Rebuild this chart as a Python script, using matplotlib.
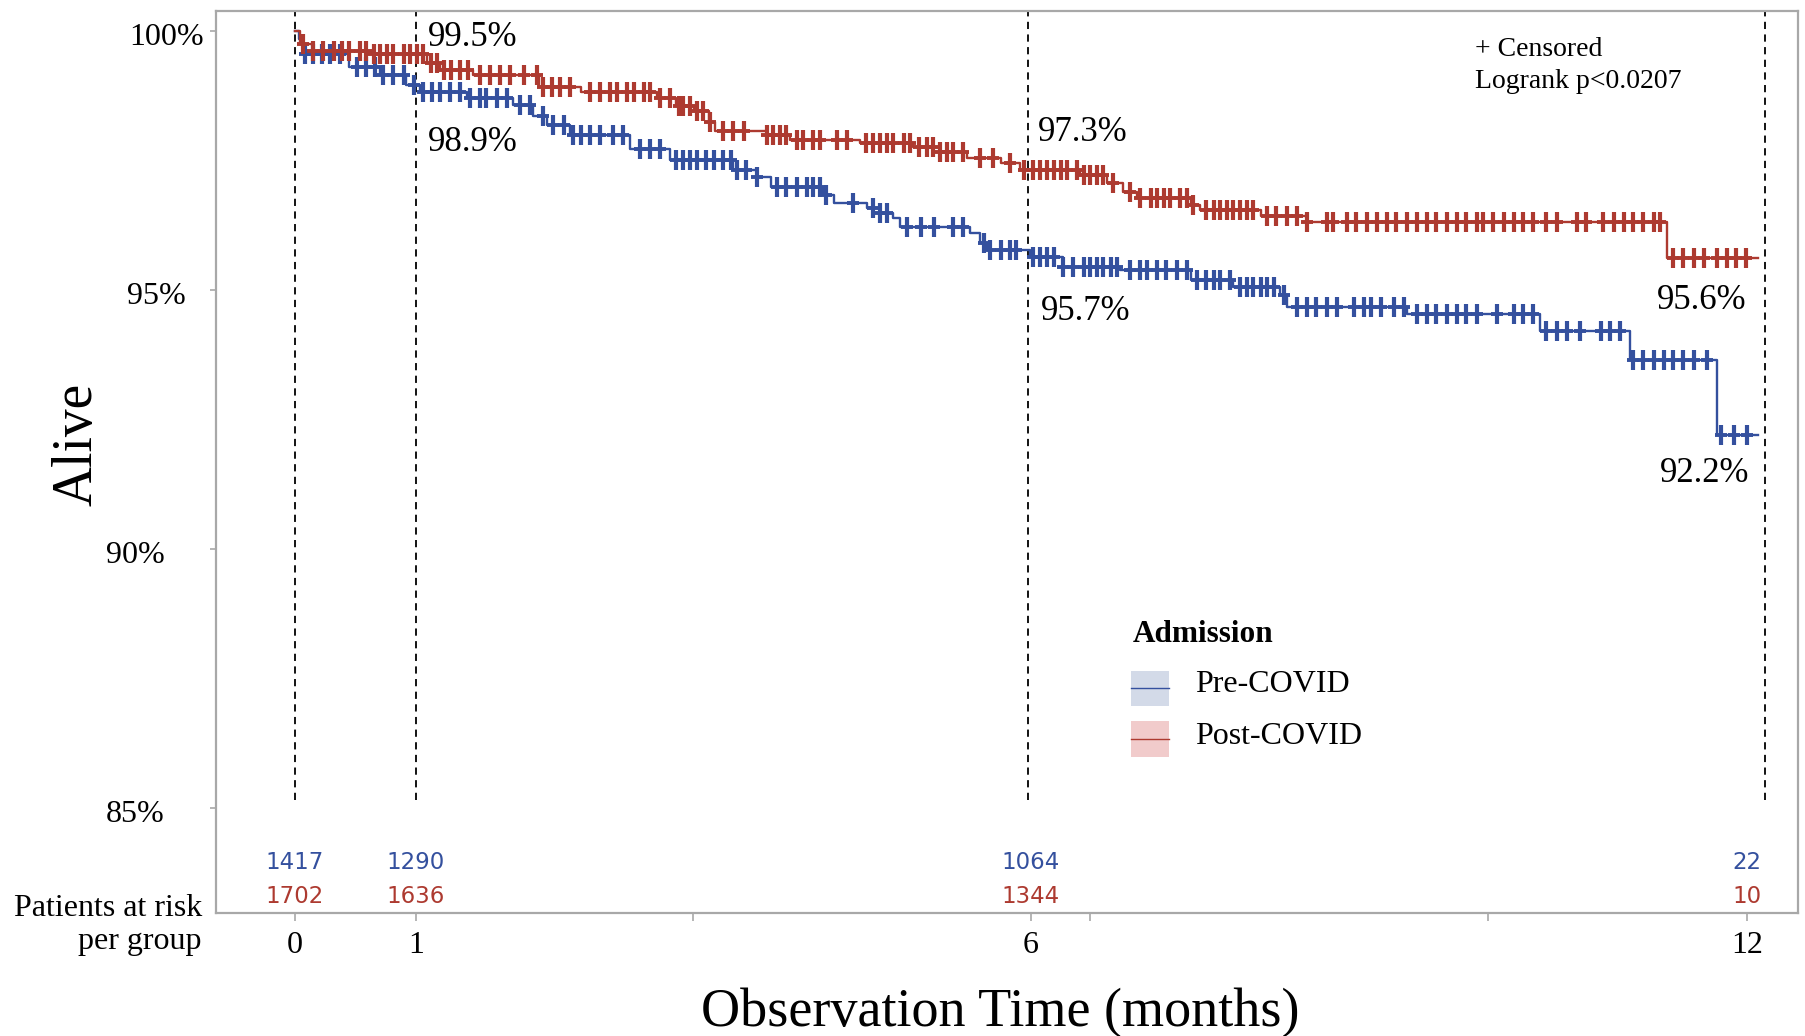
import numpy as np
import matplotlib
matplotlib.use("Agg")
import matplotlib.pyplot as plt
from matplotlib.patches import Rectangle
from matplotlib.lines import Line2D
import matplotlib.transforms as mtransforms

# ---------------- data ----------------
groups = ["Pre-COVID", "Post-COVID"]

pre_times = [0, 0.03, 0.07, 0.45, 0.70, 0.92, 1.03, 1.42, 1.80, 1.97,
             2.08, 2.27, 2.77, 3.10, 3.62, 3.82, 3.93, 4.36, 4.45, 4.73,
             4.83, 4.94, 5.00, 5.58, 5.66, 5.72, 6.07, 6.35, 6.82, 7.40,
             7.75, 8.14, 8.20, 9.19, 10.29, 11.03, 11.75, 12.09]
pre_surv = [100, 99.85, 99.55, 99.31, 99.15, 98.96, 98.83, 98.70, 98.57, 98.35,
            98.19, 97.99, 97.72, 97.50, 97.32, 97.19, 96.99, 96.83, 96.68, 96.58,
            96.49, 96.39, 96.22, 96.10, 95.91, 95.77, 95.64, 95.45, 95.39, 95.19,
            95.06, 94.90, 94.68, 94.53, 94.20, 93.65, 92.20, 92.20]
pre_censor = [0.08, 0.15, 0.22, 0.29, 0.37, 0.51, 0.59, 0.66, 0.73, 0.81, 0.90, 0.98,
              1.06, 1.13, 1.20, 1.28, 1.36, 1.45, 1.53, 1.58, 1.67, 1.75, 1.86, 1.94,
              2.05, 2.13, 2.22, 2.30, 2.36, 2.44, 2.52, 2.63, 2.71, 2.85, 2.93, 3.02,
              3.15, 3.21, 3.26, 3.32, 3.40, 3.46, 3.54, 3.60, 3.65, 3.73, 3.82, 3.98,
              4.06, 4.15, 4.23, 4.28, 4.34, 4.39, 4.61, 4.78, 4.83, 4.89, 5.06, 5.17,
              5.28, 5.44, 5.52, 5.69, 5.74, 5.83, 5.91, 5.96, 6.10, 6.16, 6.21, 6.27,
              6.35, 6.43, 6.52, 6.57, 6.63, 6.68, 6.74, 6.79, 6.90, 6.98, 7.04, 7.12,
              7.20, 7.29, 7.37, 7.45, 7.53, 7.59, 7.64, 7.73, 7.81, 7.87, 7.92, 7.98,
              8.03, 8.09, 8.17, 8.28, 8.36, 8.44, 8.53, 8.61, 8.75, 8.83, 8.89, 8.97,
              9.08, 9.16, 9.27, 9.35, 9.43, 9.52, 9.60, 9.68, 9.77, 9.93, 10.07, 10.15,
              10.23, 10.34, 10.43, 10.51, 10.62, 10.79, 10.87, 10.95, 11.06, 11.14,
              11.23, 11.31, 11.39, 11.47, 11.56, 11.67, 11.78, 11.89, 12.00]

post_times = [0, 0.04, 0.15, 0.60, 1.09, 1.20, 1.47, 2.02, 2.36, 2.99,
              3.15, 3.30, 3.42, 3.47, 3.90, 4.09, 4.67, 5.11, 5.33, 5.55,
              5.83, 5.99, 6.49, 6.71, 6.84, 6.96, 7.40, 7.48, 7.98, 8.36,
              11.34, 12.09]
post_surv = [100, 99.75, 99.62, 99.55, 99.38, 99.25, 99.15, 98.92, 98.83, 98.70,
             98.55, 98.45, 98.25, 98.07, 97.99, 97.90, 97.84, 97.77, 97.67, 97.55,
             97.45, 97.32, 97.22, 97.06, 96.90, 96.78, 96.64, 96.54, 96.42, 96.32,
             95.61, 95.61]
post_censor = [0.07, 0.15, 0.23, 0.32, 0.39, 0.45, 0.54, 0.59, 0.65, 0.70, 0.76, 0.81,
               0.90, 0.95, 1.01, 1.06, 1.12, 1.17, 1.23, 1.29, 1.36, 1.43, 1.53, 1.61,
               1.69, 1.78, 1.89, 2.00, 2.05, 2.12, 2.19, 2.27, 2.44, 2.52, 2.60, 2.66,
               2.74, 2.80, 2.88, 2.93, 3.02, 3.10, 3.17, 3.21, 3.26, 3.32, 3.37, 3.43,
               3.54, 3.62, 3.71, 3.90, 3.95, 4.01, 4.06, 4.15, 4.20, 4.28, 4.34, 4.48,
               4.56, 4.72, 4.78, 4.83, 4.89, 4.94, 5.03, 5.08, 5.16, 5.22, 5.27, 5.33,
               5.39, 5.44, 5.52, 5.66, 5.77, 5.91, 6.02, 6.10, 6.16, 6.21, 6.27, 6.33,
               6.38, 6.46, 6.52, 6.57, 6.63, 6.68, 6.76, 6.90, 6.98, 7.07, 7.12, 7.18,
               7.23, 7.31, 7.37, 7.42, 7.53, 7.59, 7.64, 7.70, 7.75, 7.81, 7.87, 7.92,
               8.03, 8.11, 8.20, 8.28, 8.36, 8.53, 8.58, 8.69, 8.77, 8.86, 8.94, 9.02,
               9.10, 9.19, 9.27, 9.35, 9.43, 9.52, 9.60, 9.68, 9.77, 9.82, 9.90, 9.99,
               10.07, 10.15, 10.23, 10.34, 10.43, 10.59, 10.67, 10.81, 10.90, 10.98,
               11.06, 11.14, 11.23, 11.28, 11.39, 11.47, 11.56, 11.64, 11.75, 11.83,
               11.91, 11.99]

landmark_labels = ["0", "1", "6", "12"]
landmark_pos = [0, 1, 6.08, 12]
ref_line_months = [0, 1, 6.06, 12.15]
sas_day_ticks = [100, 200, 300]
days_per_month = 30.4375

pre_at_risk = [1417, 1290, 1064, 22]
post_at_risk = [1702, 1636, 1344, 10]

yticks = [85, 90, 95, 100]
ytick_labels = ["85%", "90%", "95%", "100%"]

# landmark survival annotations: (text, x, y)
pre_notes = [("98.9%", 1.10, 97.84), ("95.7%", 6.16, 94.58), ("92.2%", 11.28, 91.46)]
post_notes = [("99.5%", 1.10, 99.87), ("97.3%", 6.14, 98.04), ("95.6%", 11.25, 94.79)]

# ---------------- style ----------------
SERIF = ["Liberation Serif", "DejaVu Serif"]
BLUE = "#34509E"
RED = "#AD3A30"
BLUE_FILL = "#D3DAE8"
RED_FILL = "#F1CBCB"
FRAME = "#A8A8A8"

fig = plt.figure(figsize=(18.06, 10.36), dpi=100)
ax = fig.add_axes([0.1196, 0.11873, 0.8760, 0.87066])
ax.set_xlim(-0.653, 12.42)
ax.set_ylim(82.973, 100.386)

for s in ax.spines.values():
    s.set_color(FRAME)
    s.set_linewidth(1.6)

# reference dashed lines
for xm in ref_line_months:
    ax.axvline(xm, ymin=0.125, ymax=1.0, color="black", lw=1.3,
               linestyle=(0, (4.0, 3.0)), zorder=1)

def step_value(times, surv, t):
    idx = np.searchsorted(np.asarray(times), np.asarray(t), side="right") - 1
    return np.asarray(surv)[idx]

series = [
    (pre_times, pre_surv, pre_censor, BLUE),
    (post_times, post_surv, post_censor, RED),
]
for times, surv, cens, col in series:
    ax.step(times, surv, where="post", color=col, lw=1.7, zorder=3)
    cy = step_value(times, surv, cens)
    ax.plot(cens, cy, linestyle="none", marker="|", markersize=14,
            markeredgewidth=3.0, color=col, zorder=4)
    ax.plot(cens, cy, linestyle="none", marker="_", markersize=9,
            markeredgewidth=2.8, color=col, zorder=4)

# landmark annotations
for notes in (pre_notes, post_notes):
    for txt, xx, yy in notes:
        ax.text(xx, yy, txt, fontsize=25, family=SERIF, ha="left", va="center",
                color="black", zorder=5)

# y ticks with custom-placed labels
ax.set_yticks(yticks)
ax.set_yticklabels([""] * len(yticks))
ax.tick_params(axis="y", direction="out", length=4.5, width=1.2, color=FRAME)
ylabel_x = [-0.0695, -0.0695, -0.0563, -0.055]
offset = mtransforms.ScaledTranslation(0, -7 / 100, fig.dpi_scale_trans)
trans_y = mtransforms.blended_transform_factory(ax.transAxes, ax.transData) + offset
for yv, lab, lx in zip(yticks, ytick_labels, ylabel_x):
    ax.text(lx, yv, lab, transform=trans_y, fontsize=23, family=SERIF,
            ha="left", va="center")

# x ticks
ax.set_xticks(landmark_pos)
ax.set_xticklabels(landmark_labels, fontsize=23, family=SERIF)
ax.set_xticks([d / days_per_month for d in sas_day_ticks], minor=True)
ax.tick_params(axis="x", which="both", direction="out", length=6, width=1.2,
               color=FRAME, pad=7)

# axis labels
ax.set_ylabel("Alive", fontsize=40, family=SERIF)
ax.yaxis.set_label_coords(-0.0708, 0.519)
ax.set_xlabel("Observation Time (months)", fontsize=39, family=SERIF, va="center")
ax.xaxis.set_label_coords(0.4956, -0.111)

# patients at risk
trans_x = mtransforms.blended_transform_factory(ax.transData, ax.transAxes)
for xp, n in zip(landmark_pos, pre_at_risk):
    ax.text(xp, 0.0565, str(n), transform=trans_x, fontsize=16.5,
            family="DejaVu Sans", color=BLUE, ha="center", va="center")
for xp, n in zip(landmark_pos, post_at_risk):
    ax.text(xp, 0.0182, str(n), transform=trans_x, fontsize=16.5,
            family="DejaVu Sans", color=RED, ha="center", va="center")
ax.text(-0.009, 0.0215, "Patients at risk\nper group", transform=ax.transAxes,
        fontsize=23, family=SERIF, ha="right", va="top", linespacing=1.2)

# censored / logrank note
ax.text(0.7958, 0.9573, "+ Censored", transform=ax.transAxes, fontsize=20,
        family=SERIF, ha="left", va="center")
ax.text(0.7958, 0.9215, "Logrank p<0.0207", transform=ax.transAxes, fontsize=20,
        family=SERIF, ha="left", va="center")

# legend (drawn manually)
ax.text(0.5797, 0.3082, "Admission", transform=ax.transAxes, fontsize=22.5,
        family=SERIF, fontweight="bold", ha="left", va="center")
leg_rows = [(groups[0], BLUE, BLUE_FILL, 0.2295, 0.2683, 0.2528),
            (groups[1], RED, RED_FILL, 0.1729, 0.2129, 0.1962)]
for name, col, fill, y0, y1, yt in leg_rows:
    ax.add_patch(Rectangle((0.5784, y0), 0.0240, y1 - y0, transform=ax.transAxes,
                           facecolor=fill, edgecolor="none", zorder=2))
    ax.add_line(Line2D([0.5784, 0.6024], [(y0 + y1) / 2] * 2, transform=ax.transAxes,
                       color=col, lw=1.0, zorder=3))
    ax.text(0.6188, yt, name, transform=ax.transAxes, fontsize=23, family=SERIF,
            ha="left", va="center")

fig.savefig("out.png", dpi=100, facecolor="white")
